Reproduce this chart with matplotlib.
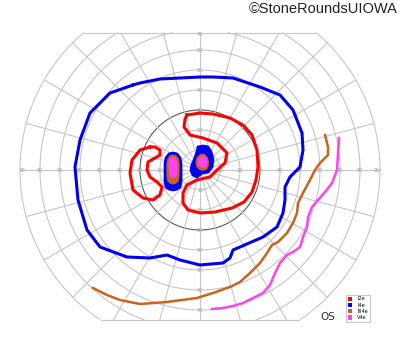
import numpy as np
import matplotlib.pyplot as plt
from matplotlib.patches import Patch

# -----------------------------
# Grid of the Goldmann chart (degrees)
# -----------------------------
rings = [10, 20, 30, 40, 50, 60, 70, 80, 90]
meridians = np.arange(0, 360, 15)
h_labels = [10, 20, 30, 40, 50, 60, 70, 80, 90]
v_labels = [10, 20, 30, 40, 50, 60, 70]
top_cut = 68.6
bottom_cut = -75

# -----------------------------
# Isopters (x, y in degrees, centre = fixation)
# -----------------------------
i4e_x = [-33.5, -45, -55, -60, -62.5, -61, -56.5, -50, -36.5, -25, -16.5, -10, 0, 11.5, 15,
         16.5, 20, 31.5, 38.5, 41.5, 42.5, 42.5, 45, 50, 51.5, 51, 46.5, 40, 30, 16.5, 6.5, 0, -20, -30]
i4e_y = [42.5, 38.5, 28.5, 15, 1.5, -15, -30, -38.5, -43.5, -44, -42.5, -45, -47.5, -46.5, -44,
         -40, -38.5, -33.5, -28.5, -21.5, -15, -8.5, -3.5, 1.5, 10, 18.5, 30, 37.5, 41.5, 46, 46.5, 46.5, 45.5, 43.5]

i2e_right_x = [-6.5, 0, 6.5, 15, 21.5, 26, 28.5, 29, 28, 26, 22, 16, 7.5, 0, -6, -8.5, -8.5, -6.5,
               -1.5, 5, 8.5, 12.5, 13.5, 8.5, 1.5, -5, -8, -7.5]
i2e_right_y = [27.5, 28.5, 28, 26, 22.5, 17.5, 10, 1.5, -5, -11, -16, -19, -21, -21.5, -20, -16.5, -11.5, -7.5,
               -5, -3.5, 0, 3.5, 8.5, 13.5, 16, 17.5, 21.5, 25.5]
i2e_left_x = [-25, -30, -34, -35, -33.5, -28.5, -23.5, -20, -19, -21.5, -25, -26.5, -26, -22.5, -20, -20, -22.5]
i2e_left_y = [11.5, 10, 5, -1.5, -10, -14, -15, -12.5, -8.5, -6, -3.5, 0, 4, 6, 7.5, 10, 11.5]

# central islands
i4e_left_x = [-15.5, -13.5, -11.5, -10, -9.5, -9.5, -10, -11.5, -13.5, -15.5, -17, -17.5, -17.5, -17]
i4e_left_y = [8, 8.5, 8, 6, 3, -6, -8.5, -9.5, -10, -9.5, -8.5, -6, 3, 6]
i4e_cen_x = [-1, 1.5, 4, 5.5, 6.5, 6, 4, 1, -1.5, -3.5, -4.5, -4, -2.5, -1.5]
i4e_cen_y = [11.5, 12, 11.5, 9, 5, 1.5, -1, -1.5, -3.5, -2.5, 0, 2.5, 6, 9]
iii4e_left_x = [-15, -13.5, -12, -10.8, -10.5, -10.5, -11, -12, -13.5, -15, -16, -16.5, -16.5, -16]
iii4e_left_y = [7, 7.5, 7, 5.5, 3, -3, -5.5, -6.5, -7, -6.5, -5.5, -3, 3, 5.5]
iii4e_cen_x = [0, 1.3, 2.5, 3.7, 4.2, 4, 3.3, 1.3, -0.5, -1.5, -2, -1.5]
iii4e_cen_y = [7.5, 8, 7.5, 6, 3.8, 1.8, 0.5, -0.2, 0.5, 1.8, 3.8, 6]
v4e_left_x = [-14.5, -13.5, -12.5, -11.7, -11.5, -11.5, -12.5, -13.5, -14.5, -15.3, -15.5, -15.5]
v4e_left_y = [6, 6.3, 6, 4.5, 3, -2.5, -3.7, -4, -3.7, -2.5, 3, 4.5]
v4e_cen_x = [0.5, 1.5, 2.5, 3.3, 3.5, 3.3, 2.5, 1.5, 0.5, -0.7, -1, -0.7]
v4e_cen_y = [6.5, 6.8, 6.5, 5.5, 4, 2.5, 1.5, 1.2, 1.5, 2.5, 4, 5.5]

# open outer isopters
iii4e_x = [62.5, 64, 64, 60, 57.5, 55, 51.5, 49, 48.5, 46.5, 43.5, 39, 36, 33.5, 30, 25, 20, 15,
           6.5, -1.5, -16.5, -30, -40, -46.5, -53.5]
iii4e_y = [17.5, 11.5, 7.5, 3.5, 0, -5, -11.5, -16.5, -21.5, -26.5, -31.5, -36, -37.5, -41.5, -46.5,
           -51.5, -56, -58.5, -61.5, -64, -66, -67, -65, -62.5, -59]
v4e_x = [69.5, 69, 68.5, 66, 62.5, 59, 56, 54, 53.5, 51.5, 50, 46.5, 43.5, 40, 37.5, 35, 31.5,
         26.5, 21.5, 16.5, 11.5, 6]
v4e_y = [16, 8.5, 0, -6.5, -11, -15, -18.5, -23.5, -28.5, -33.5, -38.5, -41, -42.5, -46.5, -51.5,
         -57.5, -61.5, -64, -66.5, -68, -69, -69.5]

legend_names = ["I2e", "I4e", "III4e", "V4e"]
c_red, c_blue, c_orange, c_pink = "#ff0000", "#0000ee", "#c8641e", "#ff44ee"
legend_colors = [c_red, c_blue, c_orange, c_pink]


def closed(x, y):
    return list(x) + [x[0]], list(y) + [y[0]]


def cut(x, y):
    x = np.asarray(x, float)
    y = np.asarray(y, float)
    bad = (y > top_cut) | (y < bottom_cut)
    x[bad] = np.nan
    y[bad] = np.nan
    return x, y


fig = plt.figure(figsize=(4, 3.52), dpi=100)
ax = fig.add_axes([0, 0, 1, 1])
ax.set_xlim(-100, 100)
ax.set_ylim(-91, 85)
ax.axis("off")

# -----------------------------
# Grid
# -----------------------------
grid_col = "#c6c6c6"
t = np.linspace(0, 2 * np.pi, 721)
for r in rings:
    x, y = cut(r * np.cos(t), r * np.sin(t))
    col = "#5a5a5a" if r == 30 else grid_col
    ax.plot(x, y, color=col, lw=0.8, zorder=1)

for m in meridians:
    rr = np.linspace(3, 90, 300)
    a = np.deg2rad(m)
    x, y = cut(rr * np.cos(a), rr * np.sin(a))
    ax.plot(x, y, color=grid_col, lw=0.8, zorder=1)

for yc in (top_cut, bottom_cut):
    half = np.sqrt(90 ** 2 - yc ** 2)
    ax.plot([-half, half], [yc, yc], color=grid_col, lw=0.8, zorder=1)

lab = dict(fontsize=3.3, color="#9a9a9a", ha="center", va="center", zorder=2)
for v in h_labels:
    ax.text(v if v < 90 else 88.5, 0, str(v), **lab)
    ax.text(-v if v < 90 else -88.5, 0, str(v), **lab)
for v in v_labels:
    ax.text(0, min(v, 67.5), str(v), **lab)
    ax.text(0, -v, str(v), **lab)

# -----------------------------
# Isopters
# -----------------------------
ax.fill(*closed(i4e_left_x, i4e_left_y), color=c_blue, lw=2, zorder=4)
ax.fill(*closed(i4e_cen_x, i4e_cen_y), color=c_blue, lw=2, zorder=4)
ax.fill(*closed(iii4e_left_x, iii4e_left_y), color=c_orange, lw=0.8, zorder=5)
ax.fill(*closed(iii4e_cen_x, iii4e_cen_y), color=c_orange, lw=0.8, zorder=5)
ax.fill(*closed(v4e_left_x, v4e_left_y), color=c_pink, lw=0.5, zorder=6)
ax.fill(*closed(v4e_cen_x, v4e_cen_y), color=c_pink, lw=0.5, zorder=6)

ax.plot(*closed(i4e_x, i4e_y), color=c_blue, lw=2.2, solid_joinstyle="round", zorder=3)
ax.plot(*closed(i2e_right_x, i2e_right_y), color=c_red, lw=2.2, solid_joinstyle="round", zorder=3)
ax.plot(*closed(i2e_left_x, i2e_left_y), color=c_red, lw=2.2, solid_joinstyle="round", zorder=3)
ax.plot(iii4e_x, iii4e_y, color=c_orange, lw=1.8, solid_joinstyle="round", zorder=3)
ax.plot(v4e_x, v4e_y, color=c_pink, lw=1.8, solid_joinstyle="round", zorder=3)

# -----------------------------
# Legend / text
# -----------------------------
handles = [Patch(facecolor=c, edgecolor="none") for c in legend_colors]
leg = ax.legend(handles, legend_names, loc="lower left", bbox_to_anchor=(346 / 400, 1 - 322 / 352),
                fontsize=3.6, frameon=True, fancybox=False, handlelength=0.9, handleheight=0.9,
                borderpad=0.35, labelspacing=0.25, handletextpad=1.0, borderaxespad=0)
leg.get_frame().set_edgecolor("#bbbbbb")
leg.get_frame().set_linewidth(0.8)

ax.text(64, -73.5, "OS", fontsize=7.5, color="#333333", ha="center", va="center")
fig.text(0.995, 0.975, "\u00a9StoneRoundsUIOWA", fontsize=10.5, color="#222222",
         ha="right", va="center", family="Liberation Sans")

fig.savefig("out.png", dpi=100)
